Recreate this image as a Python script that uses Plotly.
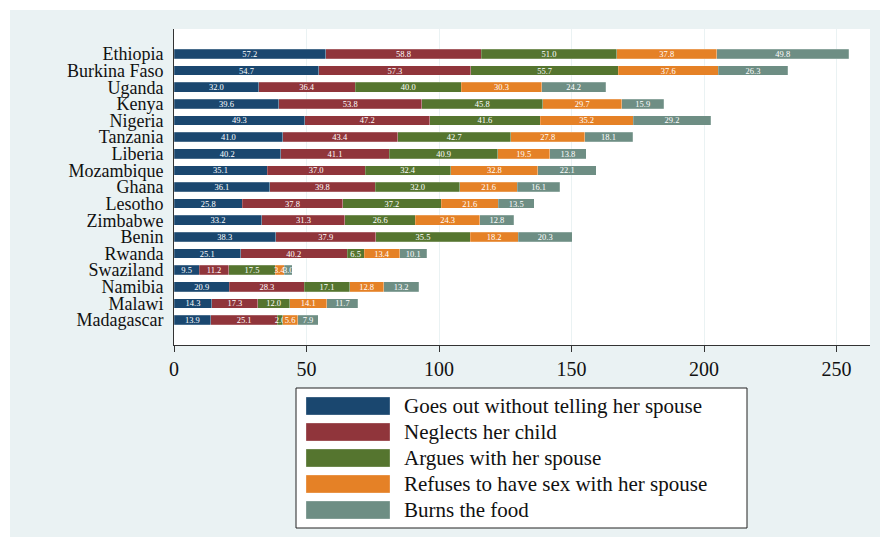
import plotly.graph_objects as go

# Countries, top to bottom
countries = ["Ethiopia", "Burkina Faso", "Uganda", "Kenya", "Nigeria", "Tanzania",
             "Liberia", "Mozambique", "Ghana", "Lesotho", "Zimbabwe", "Benin",
             "Rwanda", "Swaziland", "Namibia", "Malawi", "Madagascar"]

# Share of respondents justifying wife beating, by reason
goes_out = [57.2, 54.7, 32.0, 39.6, 49.3, 41.0, 40.2, 35.1, 36.1, 25.8, 33.2, 38.3,
            25.1, 9.5, 20.9, 14.3, 13.9]
neglects_child = [58.8, 57.3, 36.4, 53.8, 47.2, 43.4, 41.1, 37.0, 39.8, 37.8, 31.3, 37.9,
                  40.2, 11.2, 28.3, 17.3, 25.1]
argues = [51.0, 55.7, 40.0, 45.8, 41.6, 42.7, 40.9, 32.4, 32.0, 37.2, 26.6, 35.5,
          6.5, 17.5, 17.1, 12.0, 2.0]
refuses_sex = [37.8, 37.6, 30.3, 29.7, 35.2, 27.8, 19.5, 32.8, 21.6, 21.6, 24.3, 18.2,
               13.4, 3.4, 12.8, 14.1, 5.6]
burns_food = [49.8, 26.3, 24.2, 15.9, 29.2, 18.1, 13.8, 22.1, 16.1, 13.5, 12.8, 20.3,
              10.1, 3.0, 13.2, 11.7, 7.9]

series_names = ["Goes out without telling her spouse", "Neglects her child",
                "Argues with her spouse", "Refuses to have sex with her spouse",
                "Burns the food"]
series_values = [goes_out, neglects_child, argues, refuses_sex, burns_food]
colors = ["#1A476F", "#90353B", "#55752F", "#E58126", "#6E8E84"]

SERIF = "Liberation Serif"
BG = "#EAF2F3"

fig = go.Figure()
for name, vals, col in zip(series_names, series_values, colors):
    fig.add_trace(go.Bar(
        y=countries, x=vals, name=name, orientation="h",
        marker=dict(color=col, line=dict(width=0.6, color="rgba(255,255,255,0.35)")),
        width=0.58,
        texttemplate="%{x:.1f}", textposition="inside", insidetextanchor="middle",
        textangle=0, textfont=dict(family=SERIF, size=8.5, color="white"),
        showlegend=False,
    ))

# Plot area in pixels: x 174..870, y 29..345
L, R, T, B = 174, 870, 29, 345
W, H = 890, 547


def px_x(p):
    return (p - L) / (R - L)


def px_y(p):
    return (B - p) / (B - T)


shapes = [
    # outer shaded graph region
    dict(type="rect", xref="paper", yref="paper", layer="below",
         x0=px_x(10), x1=px_x(880), y0=px_y(537), y1=px_y(10),
         fillcolor=BG, line=dict(width=0)),
    # white plot region
    dict(type="rect", xref="paper", yref="paper", layer="below",
         x0=0, x1=1, y0=0, y1=1, fillcolor="white", line=dict(width=0)),
    # legend box
    dict(type="rect", xref="paper", yref="paper", layer="above",
         x0=px_x(296), x1=px_x(747), y0=px_y(528), y1=px_y(388),
         fillcolor="white", line=dict(width=1, color="#222222")),
]
annotations = []
for i, (name, col) in enumerate(zip(series_names, colors)):
    yc = 406 + i * 26
    shapes.append(dict(type="rect", xref="paper", yref="paper", layer="above",
                       x0=px_x(306), x1=px_x(390), y0=px_y(yc + 9), y1=px_y(yc - 9),
                       fillcolor=col, line=dict(width=0.6, color="rgba(255,255,255,0.5)")))
    annotations.append(dict(xref="paper", yref="paper", x=px_x(402), y=px_y(yc),
                            text=name, showarrow=False, xanchor="left", yanchor="middle",
                            font=dict(family=SERIF, size=21, color="#111111")))

fig.update_layout(
    width=W, height=H,
    margin=dict(l=L, r=W - R, t=T, b=H - B),
    barmode="stack",
    paper_bgcolor="white", plot_bgcolor="rgba(0,0,0,0)",
    shapes=shapes, annotations=annotations,
    xaxis=dict(range=[0, 262.6], tickvals=[0, 50, 100, 150, 200, 250],
               showgrid=True, gridcolor=BG, gridwidth=1, zeroline=False,
               showline=True, linecolor="#333333", linewidth=1,
               ticks="outside", ticklen=6, tickcolor="#333333",
               tickfont=dict(family=SERIF, size=20, color="#111111")),
    yaxis=dict(type="category", categoryorder="array", categoryarray=countries,
               tickmode="array", tickvals=countries, ticktext=countries,
               range=[17.5, -1.5], showgrid=False, zeroline=False,
               showline=True, linecolor="#333333", linewidth=1,
               ticks="", ticklabelstandoff=6,
               tickfont=dict(family=SERIF, size=18, color="#111111")),
    uniformtext=dict(minsize=8.5, mode="show"),
)

fig.write_html("out.html")
